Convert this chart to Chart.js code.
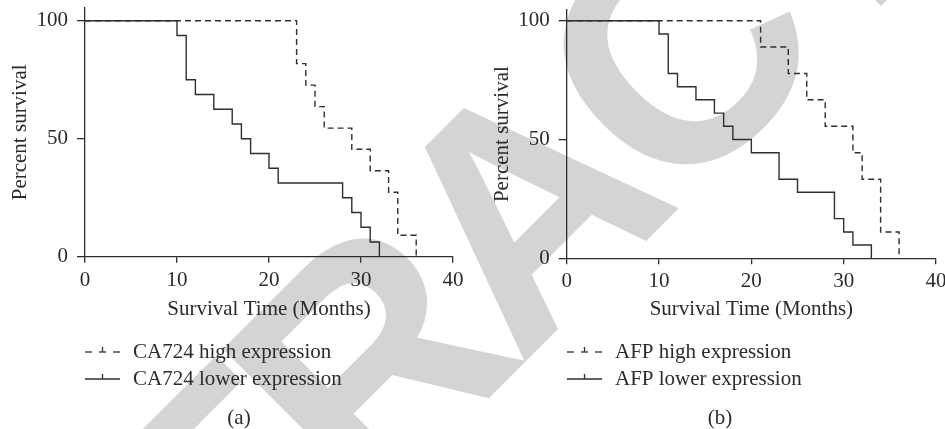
<!DOCTYPE html>
<html>
<head>
<meta charset="utf-8">
<script src="https://cdn.jsdelivr.net/npm/chart.js@4"></script>
<style>
  html, body { margin: 0; padding: 0; background: #fff; }
  #wrap { position: relative; width: 945px; height: 429px; overflow: hidden; }
  canvas { position: absolute; top: 0; }
</style>
</head>
<body>
<div id="wrap">
  <canvas id="chartA" width="472" height="429" style="left:0px"></canvas>
  <canvas id="chartB" width="473" height="429" style="left:472px"></canvas>
</div>
<script>
// Kaplan-Meier steps (time in months, percent survival)
const caTimesHigh = [0, 23, 24, 25, 26, 29, 31, 33, 34, 36];
const caSurvHigh = [100, 81.8, 72.7, 63.6, 54.5, 45.5, 36.4, 27.3, 9.1, 0];
const caTimesLow = [0, 10, 11, 12, 14, 16, 17, 18, 20, 21, 28, 29, 30, 31, 32];
const caSurvLow = [100, 93.75, 75, 68.75, 62.5, 56.25, 50, 43.75, 37.5, 31.25, 25, 18.75, 12.5, 6.25, 0];

const afpTimesHigh = [0, 21, 24, 26, 28, 31, 32, 34, 36];
const afpSurvHigh = [100, 88.9, 77.8, 66.7, 55.6, 44.4, 33.3, 11.1, 0];
const afpTimesLow = [0, 10, 11, 12, 14, 16, 17, 18, 20, 23, 25, 29, 30, 31, 33];
const afpSurvLow = [100, 94.4, 77.8, 72.2, 66.7, 61.1, 55.6, 50, 44.4, 33.3, 27.8, 16.7, 11.1, 5.6, 0];

const xTicks = [0, 10, 20, 30, 40];
const yTicks = [0, 50, 100];
const xTitle = 'Survival Time (Months)';
const yTitle = 'Percent survival';
const watermark = 'RETRACTED';

Chart.defaults.font.family = "'Liberation Serif', 'Times New Roman', serif";
Chart.defaults.color = '#2b2b2b';

const ink = '#2e2e2e';

function toPoints(times, surv) {
    return times.map((t, i) => ({ x: t, y: surv[i] }));
}

// grey diagonal stamp across both panels (drawn behind everything)
const stampPlugin = {
    id: 'stamp',
    beforeDraw(chart, args, opts) {
        const ctx = chart.ctx;
        const track = -16;
        ctx.save();
        ctx.translate(-opts.pageLeft, 0);
        ctx.translate(602, 285);
        ctx.rotate(-Math.PI / 4);
        ctx.font = "bold 324px 'Liberation Sans', Arial, sans-serif";
        ctx.fillStyle = '#d4d4d4';
        ctx.textBaseline = 'alphabetic';
        ctx.textAlign = 'left';
        const letters = watermark.split('');
        const widths = letters.map(ch => ctx.measureText(ch).width);
        // centre of the fifth letter ("A") sits at the origin
        let x = 0;
        for (let i = 0; i < 4; i++) x -= widths[i] + track;
        x -= widths[4] / 2;
        letters.forEach((ch, i) => {
            ctx.fillText(ch, x, 0);
            x += widths[i] + track;
        });
        ctx.restore();
    }
};

// legend stacked under the axis + panel caption
const keyPlugin = {
    id: 'key',
    afterDraw(chart, args, opts) {
        const ctx = chart.ctx;
        ctx.save();
        ctx.font = "21px 'Liberation Serif', serif";
        ctx.fillStyle = '#2b2b2b';
        ctx.textBaseline = 'middle';
        opts.rows.forEach((row, i) => {
            const ds = chart.data.datasets[i];
            const y = row;
            ctx.strokeStyle = ink;
            ctx.lineWidth = 1.3;
            ctx.setLineDash(ds.borderDash ? [7, 7] : []);
            ctx.beginPath();
            ctx.moveTo(opts.x, y);
            ctx.lineTo(opts.x + 35, y);
            ctx.stroke();
            ctx.setLineDash([]);
            ctx.beginPath();
            ctx.moveTo(opts.x + 17.5, y);
            ctx.lineTo(opts.x + 17.5, y - 5);
            ctx.stroke();
            ctx.textAlign = 'left';
            ctx.fillText(ds.label, opts.x + 48, y);
        });
        ctx.textAlign = 'center';
        ctx.fillText(opts.caption, opts.captionX, opts.captionY);
        ctx.restore();
    }
};

function makeChart(id, p) {
    const yTop = p.bottom - p.yMax * p.unitY;
    new Chart(document.getElementById(id), {
        type: 'line',
        data: {
            datasets: [{
                label: p.highLabel,
                data: toPoints(p.highT, p.highS),
                borderColor: ink,
                borderWidth: 1.4,
                borderDash: [6, 4],
                stepped: 'before',
                pointRadius: 0,
                fill: false,
                order: 1
            }, {
                label: p.lowLabel,
                data: toPoints(p.lowT, p.lowS),
                borderColor: ink,
                borderWidth: 1.4,
                stepped: 'before',
                pointRadius: 0,
                fill: false,
                order: 0
            }]
        },
        options: {
            responsive: false,
            animation: false,
            layout: {
                padding: { left: 0, top: yTop, right: p.width - p.right, bottom: 0 }
            },
            plugins: {
                legend: { display: false },
                tooltip: { enabled: false },
                stamp: { pageLeft: p.pageLeft },
                key: {
                    x: p.legendX, rows: [352, 379],
                    caption: p.caption, captionX: p.captionX, captionY: 418
                }
            },
            scales: {
                x: {
                    type: 'linear',
                    min: 0,
                    max: 40,
                    afterBuildTicks: s => { s.ticks = xTicks.map(v => ({ value: v })); },
                    afterFit: s => { s.height = 429 - p.bottom; s.paddingLeft = 0; s.paddingRight = 0; },
                    grid: { drawOnChartArea: false, color: ink, lineWidth: 1.3, tickLength: 6 },
                    border: { color: ink, width: 1.3 },
                    ticks: { font: { size: 21 }, padding: 5, maxRotation: 0, color: '#2b2b2b' },
                    title: {
                        display: true, text: xTitle,
                        font: { size: 21 }, color: '#2b2b2b',
                        padding: { top: 0, bottom: 429 - 309 - 12.6 }
                    }
                },
                y: {
                    min: 0,
                    max: p.yMax,
                    afterBuildTicks: s => { s.ticks = yTicks.map(v => ({ value: v })); },
                    afterFit: s => { s.width = p.axisX; s.paddingTop = 0; s.paddingBottom = 0; },
                    grid: { drawOnChartArea: false, color: ink, lineWidth: 1.3, tickLength: 8 },
                    border: { color: ink, width: 1.3 },
                    ticks: { font: { size: 21 }, padding: 9, color: '#2b2b2b' },
                    title: {
                        display: true, text: yTitle,
                        font: { size: 21 }, color: '#2b2b2b',
                        padding: { top: p.yTitleX - 12.6, bottom: 0 }
                    }
                }
            }
        },
        plugins: [stampPlugin, keyPlugin]
    });
}

makeChart('chartA', {
    pageLeft: 0, width: 472, axisX: 85, right: 453,
    bottom: 256.7, unitY: 2.36, yMax: 105.4, yTitleX: 20,
    highT: caTimesHigh, highS: caSurvHigh, lowT: caTimesLow, lowS: caSurvLow,
    highLabel: 'CA724 high expression', lowLabel: 'CA724 lower expression',
    legendX: 85, caption: '(a)', captionX: 239
});

makeChart('chartB', {
    pageLeft: 472, width: 473, axisX: 94.7, right: 464,
    bottom: 258.3, unitY: 2.376, yMax: 104.5, yTitleX: 30,
    highT: afpTimesHigh, highS: afpSurvHigh, lowT: afpTimesLow, lowS: afpSurvLow,
    highLabel: 'AFP high expression', lowLabel: 'AFP lower expression',
    legendX: 95, caption: '(b)', captionX: 248
});
</script>
</body>
</html>
